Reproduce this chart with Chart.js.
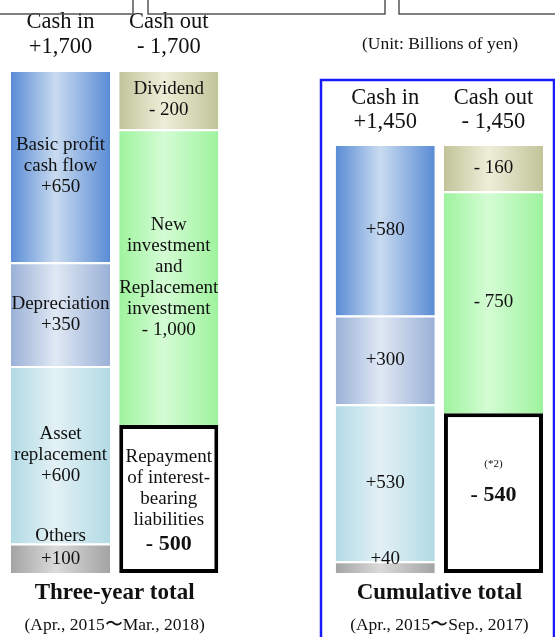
<!DOCTYPE html>
<html>
<head>
<meta charset="utf-8">
<script src="https://cdn.jsdelivr.net/npm/chart.js@4"></script>
<style>
  html, body { margin: 0; padding: 0; background: #fff; }
</style>
</head>
<body>
<canvas id="cf" width="555" height="637"></canvas>
<script>
// bars: three-year in/out, spacer, cumulative in/out
var bars = ["3y-in", "3y-out", "", "cum-in", "cum-out"];

// cash in (bottom to top)
var others       = [100, null, null, 40, null];
var assetRepl    = [600, null, null, 530, null];
var depreciation = [350, null, null, 300, null];
var basicProfit  = [650, null, null, 580, null];

// cash out (bottom to top)
var repayment    = [null, 500, null, null, 540];
var newInvest    = [null, 1000, null, null, 750];
var dividend     = [null, 200, null, null, 160];

var groupTitles = ["Three-year total", "Cumulative total"];
var groupPeriods = ["(Apr., 2015\u301CMar., 2018)", "(Apr., 2015\u301CSep., 2017)"];

var FONT = "'Liberation Serif', serif";
var BAR_PCT = 0.915;

function fmt(v){ return v.toLocaleString("en-US"); }
function sum(arrs, i){ var s = 0; arrs.forEach(function(a){ if(a[i]) s += a[i]; }); return s; }

function grad(edge, mid){
    return function(c){
        var chart = c.chart;
        var xs = chart.scales.x;
        if(!xs || !chart.chartArea) return edge;
        var cx = xs.getPixelForValue(c.dataIndex);
        var w = xs.width / bars.length * BAR_PCT;
        var g = chart.ctx.createLinearGradient(cx - w/2, 0, cx + w/2, 0);
        g.addColorStop(0, edge);
        g.addColorStop(0.45, mid);
        g.addColorStop(1, edge);
        return g;
    };
}

// label lines for each dataset, per bar (cumulative bars only show the value)
function inLabel(name, sign){
    return function(v, i){
        var val = sign + fmt(v);
        if(i < 2 && name) return name.concat([val]);
        return [val];
    };
}

var datasets = [
    {data: others, bg: grad("#a4a4a4", "#dadada"), lab: function(v){ return ["+" + fmt(v)]; }, key: "others"},
    {data: assetRepl, bg: grad("#b2dae5", "#e3f1f5"), lab: inLabel(["Asset", "replacement"], "+")},
    {data: depreciation, bg: grad("#9ab1d7", "#e0e8f4"), lab: inLabel(["Depreciation"], "+")},
    {data: basicProfit, bg: grad("#5a8cd5", "#c9dbf0"), lab: inLabel(["Basic profit", "cash flow"], "+")},
    {data: repayment, bg: "#ffffff", lab: function(v, i){
        if(i < 2) return ["Repayment", "of interest-", "bearing", "liabilities", "- " + fmt(v)];
        return ["(*2)", "- " + fmt(v)];
    }, key: "repay"},
    {data: newInvest, bg: grad("#9ef39e", "#d4fcd4"), lab: inLabel(["New", "investment", "and", "Replacement", "investment"], "- ")},
    {data: dividend, bg: grad("#c1c499", "#eeeed9"), lab: inLabel(["Dividend"], "- ")}
];

var labelPlugin = {
    id: "labels",
    afterDatasetsDraw: function(chart){
        var ctx = chart.ctx;
        ctx.save();
        ctx.textAlign = "center";
        ctx.textBaseline = "middle";
        ctx.fillStyle = "#111";
        datasets.forEach(function(ds, di){
            var meta = chart.getDatasetMeta(di);
            meta.data.forEach(function(el, i){
                var v = ds.data[i];
                if(v == null) return;
                var lines = ds.lab(v, i);
                var cy = (el.y + el.base) / 2;
                var lh = 21;
                ctx.font = "19px " + FONT;
                if(ds.key === "others"){
                    // too thin: name / value sit at the top edge
                    if(i < 2){
                        ctx.fillText("Others", el.x, el.y - 7);
                        ctx.fillText(lines[0], el.x, cy + 1);
                    } else {
                        ctx.fillText(lines[0], el.x, el.y - 2);
                    }
                    return;
                }
                var top = cy - (lines.length - 1) * lh / 2;
                lines.forEach(function(t, k){
                    var last = k === lines.length - 1;
                    var y = top + k * lh;
                    if(ds.key === "repay" && last){
                        ctx.font = "bold 22px " + FONT;
                        y = i < 2 ? y + 3 : cy + 2;
                    } else if(t === "(*2)"){
                        ctx.font = "11px " + FONT;
                        y = cy - 29;
                    } else {
                        ctx.font = "19px " + FONT;
                    }
                    ctx.fillText(t, el.x, y);
                });
            });
        });

        // headers above bars, titles below
        var xs = chart.scales.x;
        var inArr = [others, assetRepl, depreciation, basicProfit];
        var outArr = [repayment, newInvest, dividend];
        var headY = [[22, 47], [98, 122]];
        [[0, 1], [3, 4]].forEach(function(pair, g){
            var xin = xs.getPixelForValue(pair[0]);
            var xout = xs.getPixelForValue(pair[1]);
            ctx.font = "22.5px " + FONT;
            ctx.fillText("Cash in", xin, headY[g][0]);
            ctx.fillText("+" + fmt(sum(inArr, pair[0])), xin, headY[g][1]);
            ctx.fillText("Cash out", xout, headY[g][0]);
            ctx.fillText("- " + fmt(sum(outArr, pair[1])), xout, headY[g][1]);
            var cx = (xin + xout) / 2;
            ctx.font = "bold 23px " + FONT;
            ctx.fillText(groupTitles[g], cx, 593);
            ctx.font = "17.5px " + FONT;
            ctx.fillText(groupPeriods[g], cx, 625);
        });
        ctx.font = "17.5px " + FONT;
        ctx.fillText("(Unit: Billions of yen)", 440, 44);

        // frames
        ctx.strokeStyle = "#1a1aff";
        ctx.lineWidth = 2.5;
        ctx.strokeRect(321, 80, 233, 562);
        ctx.strokeStyle = "#555";
        ctx.lineWidth = 1.5;
        ctx.strokeRect(-5, -5, 138, 19);
        ctx.strokeRect(148, -5, 237, 19);
        ctx.strokeRect(399, -5, 170, 19);
        ctx.restore();
    }
};

new Chart(document.getElementById("cf"), {
    type: "bar",
    data: {
        labels: bars,
        datasets: datasets.map(function(d){
            var repay = d.key === "repay";
            return {
                data: d.data,
                backgroundColor: d.bg,
                borderColor: repay ? "#000" : "#fff",
                borderWidth: repay ? {top: 4, bottom: 4, left: 4, right: 4} : {top: 2},
                borderSkipped: repay ? false : "start",
                barPercentage: BAR_PCT,
                categoryPercentage: 1,
                stack: "s"
            };
        })
    },
    options: {
        responsive: false,
        animation: false,
        devicePixelRatio: 1,
        layout: {padding: {left: 6.4, right: 7.4, top: 70, bottom: 64}},
        plugins: {legend: {display: false}, tooltip: {enabled: false}},
        scales: {
            x: {display: false, stacked: true},
            y: {display: false, stacked: true, min: 0, max: 1700}
        }
    },
    plugins: [labelPlugin]
});
</script>
</body>
</html>
